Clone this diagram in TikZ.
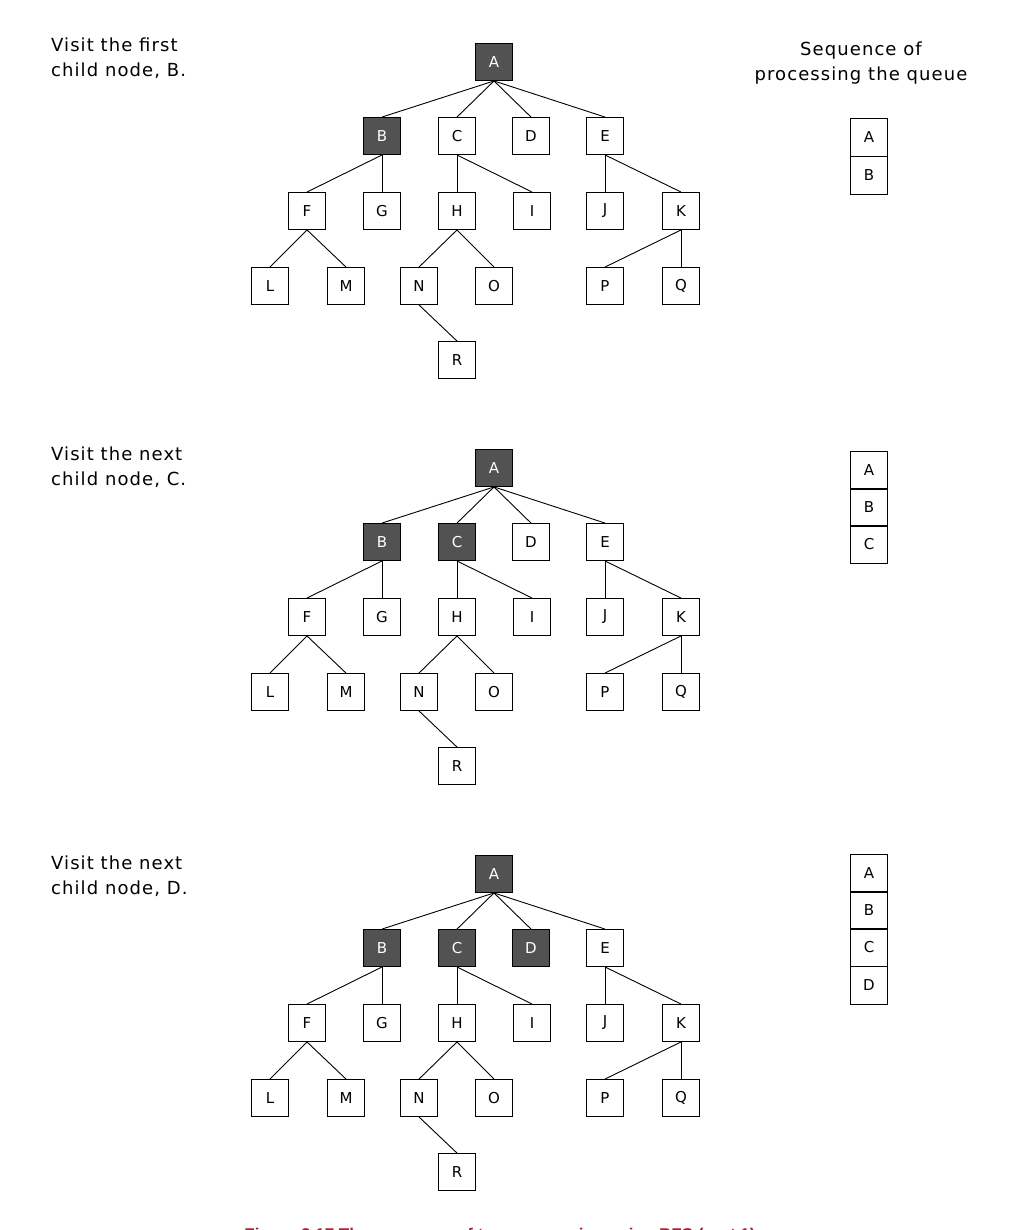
\documentclass[tikz,border=0pt]{standalone}
\usepackage{fontspec}
\setmainfont{DejaVu Sans}[LetterSpace=6]
\newfontfamily\capfont{Liberation Sans}
\begin{document}
\begin{tikzpicture}[x=1pt,y=-1pt,
  box/.style={draw,line width=0.9pt,minimum width=37pt,minimum height=37pt,inner sep=0pt,font=\fontsize{15}{15}\selectfont},
  vis/.style={box,fill=black!68,text=white},
  lbl/.style={font=\fontsize{18}{25}\selectfont,align=left,anchor=north west,inner sep=0pt},
  edge/.style={line width=0.9pt}]
\useasboundingbox (0,0) rectangle (1015,1230);
\fill[white] (0,0) rectangle (1015,1230);
\foreach \t/\dy/\nv in {1/0/1,2/406/2,3/812/3}{
  \begin{scope}[yshift=-\dy]
  \node[vis] (A\t) at (494,62) {A};
  \node[vis] (B\t) at (382,136) {B};
  \ifnum\nv>1 \node[vis] (C\t) at (457,136) {C};\else\node[box] (C\t) at (457,136) {C};\fi
  \ifnum\nv>2 \node[vis] (D\t) at (531,136) {D};\else\node[box] (D\t) at (531,136) {D};\fi
  \node[box] (E\t) at (605,136) {E};
  \node[box] (F\t) at (307,211) {F};
  \node[box] (G\t) at (382,211) {G};
  \node[box] (H\t) at (457,211) {H};
  \node[box] (I\t) at (532,211) {I};
  \node[box] (J\t) at (605,211) {J};
  \node[box] (K\t) at (681,211) {K};
  \node[box] (L\t) at (270,286) {L};
  \node[box] (M\t) at (346,286) {M};
  \node[box] (N\t) at (419,286) {N};
  \node[box] (O\t) at (494,286) {O};
  \node[box] (P\t) at (605,286) {P};
  \node[box] (Q\t) at (681,286) {Q};
  \node[box] (R\t) at (457,360) {R};
  \foreach \p/\c in {A/B,A/C,A/D,A/E,B/F,B/G,C/H,C/I,E/J,E/K,F/L,F/M,H/N,H/O,K/P,K/Q,N/R}
    \draw[edge] (\p\t.south) -- (\c\t.north);
  \end{scope}}
\node[lbl] (t1) at (51,38) {Visit the first\\child node, B.};
\node[lbl] (t2) at (51,447) {Visit the next\\child node, C.};
\node[lbl] (t3) at (51,856) {Visit the next\\child node, D.};
\node[font=\fontsize{18}{25}\selectfont,align=center,inner sep=0pt] (sq) at (861,63) {Sequence of\\processing the queue};
\begin{scope}[box/.append style={minimum height=38pt}]
\node[box] (q1a) at (869,137) {A};
\node[box] (q1b) at (869,175) {B};
\node[box] (q2a) at (869,470) {A};
\node[box] (q2b) at (869,507) {B};
\node[box] (q2c) at (869,544) {C};
\node[box] (q3a) at (869,873) {A};
\node[box] (q3b) at (869,910) {B};
\node[box] (q3c) at (869,947) {C};
\node[box] (q3d) at (869,985) {D};
\end{scope}
\definecolor{capred}{HTML}{A3213D}
\node[font=\capfont\bfseries\fontsize{17}{20}\selectfont,text=capred] (cap) at (500,1236) {Figure 3.17 The sequence of tree processing using BFS (part 1)};
\end{tikzpicture}
\end{document}
